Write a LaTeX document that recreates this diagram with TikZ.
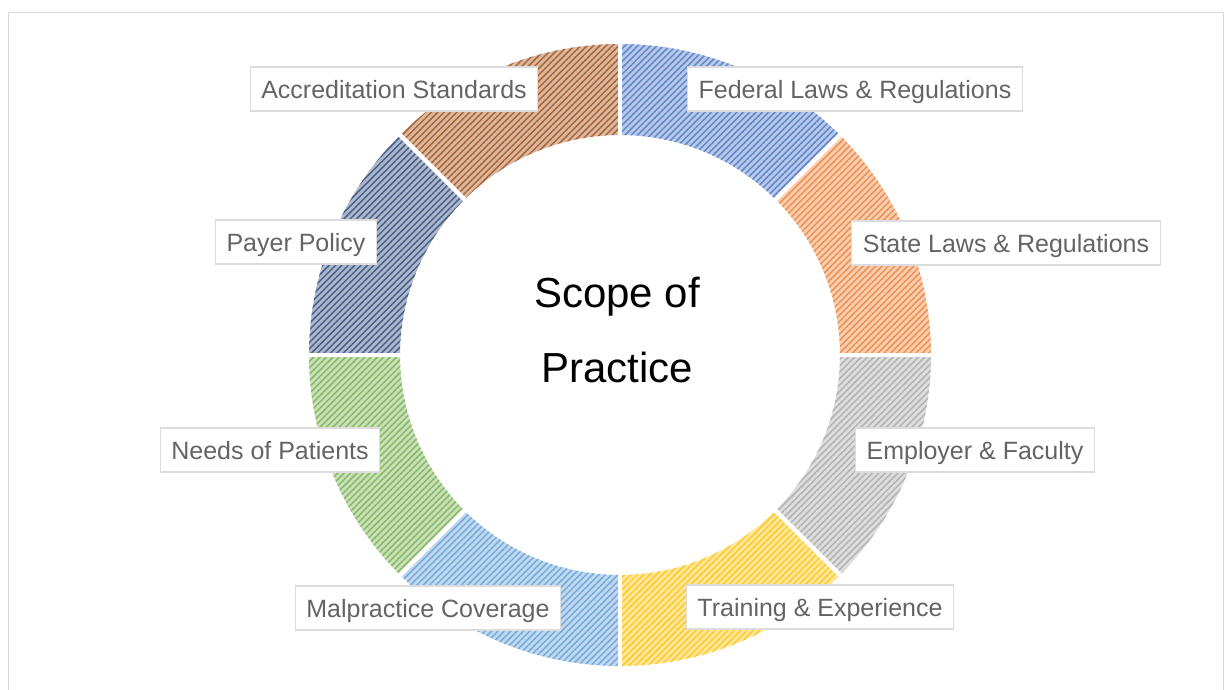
\documentclass[tikz,border=0pt]{standalone}
\usepackage{fontspec}
\setmainfont{Liberation Sans}
\usetikzlibrary{patterns.meta}

\definecolor{cFed}{HTML}{4472C4}
\definecolor{cState}{HTML}{ED7D31}
\definecolor{cEmp}{HTML}{A5A5A5}
\definecolor{cTrain}{HTML}{FFC000}
\definecolor{cMal}{HTML}{5B9BD5}
\definecolor{cNeed}{HTML}{70AD47}
\definecolor{cPay}{HTML}{264478}
\definecolor{cAcc}{HTML}{9E480E}
\definecolor{lbltext}{HTML}{646464}
\definecolor{lblframe}{HTML}{DCDCDC}
\definecolor{frame}{HTML}{D9D9D9}

\tikzset{
  seg/.style={fill=#1!38,
    postaction={pattern={Lines[angle=45,distance=4.5pt,line width=1.5pt]},pattern color=#1!85}},
  lbl/.style={draw=lblframe, line width=1.2pt, fill=white, text=lbltext,
    font=\fontsize{25}{30}\selectfont, inner xsep=11pt, inner ysep=0pt,
    minimum height=44pt, text depth=0pt},
  title/.style={font=\fontsize{42}{50}\selectfont, text=black, anchor=base, inner sep=0pt}
}

\newcommand{\ringseg}[2]{%
  \path[seg=#2] (#1:311pt) arc[start angle=#1, end angle=#1+45, radius=311pt]
    -- (#1+45:220pt) arc[start angle=#1+45, end angle=#1, radius=220pt] -- cycle;}

\begin{document}
\begin{tikzpicture}[x=1pt,y=1pt]
  % canvas and outer frame
  \useasboundingbox[fill=white] (-620,-335) rectangle (605,355);
  \draw[frame, line width=1.5pt] (-611.5,-340) -- (-611.5,342.5) -- (603.5,342.5) -- (603.5,-340);

  % donut ring, eight 45-degree sectors
  \ringseg{45}{cFed}
  \ringseg{0}{cState}
  \ringseg{-45}{cEmp}
  \ringseg{-90}{cTrain}
  \ringseg{-135}{cMal}
  \ringseg{180}{cNeed}
  \ringseg{135}{cPay}
  \ringseg{90}{cAcc}

  % white gaps between sectors
  \foreach \a in {0,45,...,315}
    \draw[white, line width=4.5pt] (\a:214pt) -- (\a:317pt);

  % centre title
  \node[title] (t1) at (-3,47) {Scope of};
  \node[title] (t2) at (-3,-28) {Practice};

  % sector labels
  \node[lbl] (acc)   at (-226,266) {Accreditation Standards};
  \node[lbl] (fed)   at (235,266)  {Federal Laws \& Regulations};
  \node[lbl] (pay)   at (-324,113) {Payer Policy};
  \node[lbl] (state) at (386,112)  {State Laws \& Regulations};
  \node[lbl] (need)  at (-350,-95) {Needs of Patients};
  \node[lbl] (emp)   at (355,-95)  {Employer \& Faculty};
  \node[lbl] (mal)   at (-192,-253) {Malpractice Coverage};
  \node[lbl] (train) at (200,-252) {Training \& Experience};
\end{tikzpicture}
\end{document}
